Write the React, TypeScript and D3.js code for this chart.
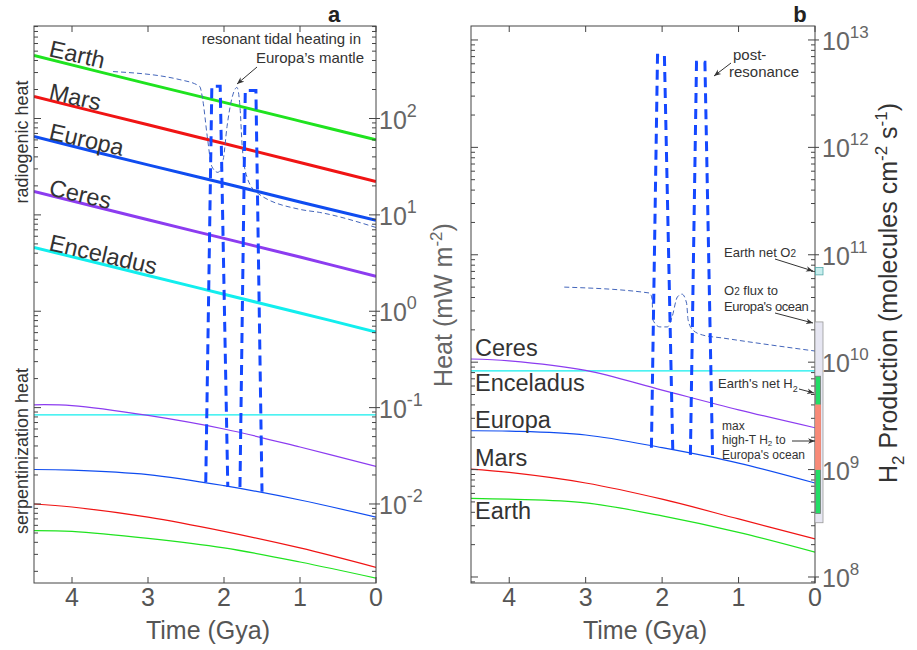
import React from "react";
import * as d3 from "d3";

// ---------- data ----------
const timeTicks = [4, 3, 2, 1, 0];

// radiogenic heat (mW m^-2), panel a
const radTimes = [4.5, 3, 2, 1, 0];
const radEarth = [450, 229, 147, 94, 60];
const radMars = [169, 86, 55, 35, 22.2];
const radEuropa = [65, 33, 21.3, 13.6, 8.8];
const radCeres = [17.5, 8.9, 5.7, 3.65, 2.3];
const radEnceladus = [4.6, 2.35, 1.5, 0.96, 0.61];

// serpentinization heat (mW m^-2), panel a
const serpTimes = [4.5, 4, 3, 2, 1, 0];
const serpCeres = [0.107, 0.105, 0.083, 0.06, 0.039, 0.0245];
const serpEnceladus = [0.084, 0.084, 0.084, 0.084, 0.084, 0.084];
const serpEuropa = [0.0228, 0.0225, 0.0202, 0.0155, 0.011, 0.0073];
const serpMars = [0.01, 0.0093, 0.0073, 0.0052, 0.0035, 0.0022];
const serpEarth = [0.0053, 0.0052, 0.0044, 0.0035, 0.0025, 0.0017];

// resonance pulses, panel a
const pulseA1Times = [2.24, 2.16, 2.05, 1.95];
const pulseA1Vals = [0.0168, 216, 216, 0.015];
const pulseA2Times = [1.79, 1.72, 1.58, 1.5];
const pulseA2Vals = [0.015, 195, 195, 0.0134];

// tidal heating in Europa's mantle (thin dashed), panel a
const tidalTimes = [3.46, 2.58, 2.32, 2.28, 2.22, 2.16, 2.08, 2.01, 1.96, 1.89, 1.83, 1.79, 1.76, 1.7, 1.57, 1.0, 0.74, 0];
const tidalVals = [307, 253, 215, 157, 65, 31.8, 27.6, 37.6, 82.6, 169, 210, 133, 51, 25, 17.1, 11.4, 10.6, 7.4];

// H2 production (molecules cm^-2 s^-1), panel b
const h2Times = [4.5, 4, 3, 2, 1, 0];
const h2Ceres = [1.07e10, 1.03e10, 8.4e9, 5.5e9, 3.6e9, 2.45e9];
const h2Enceladus = [8.3e9, 8.3e9, 8.3e9, 8.3e9, 8.3e9, 8.3e9];
const h2Europa = [2.3e9, 2.28e9, 2.1e9, 1.6e9, 1.15e9, 7.5e8];
const h2Mars = [1.01e9, 9.4e8, 7.5e8, 5.3e8, 3.47e8, 2.26e8];
const h2Earth = [5.4e8, 5.3e8, 4.9e8, 3.7e8, 2.6e8, 1.7e8];

// post-resonance pulses, panel b
const pulseB1Times = [2.14, 2.06, 1.97, 1.86];
const pulseB1Vals = [1.6e9, 7.2e12, 7.2e12, 1.45e9];
const pulseB2Times = [1.63, 1.55, 1.44, 1.34];
const pulseB2Vals = [1.37e9, 6.2e12, 6.2e12, 1.3e9];

// O2 flux (thin dashed), panel b
const o2Times = [3.28, 2.16, 2.13, 2.12, 2.03, 1.93, 1.87, 1.8, 1.74, 1.68, 1.66, 1.6, 1.47, 1.21, 0.85, 0];
const o2Vals = [5.0e10, 4.4e10, 3.8e10, 2.47e10, 2.13e10, 2.13e10, 2.63e10, 4.05e10, 4.3e10, 3.55e10, 2.47e10, 2.0e10, 1.79e10, 1.68e10, 1.54e10, 1.27e10];

// present-day range bars, panel b  [low, high]
const earthNetO2 = [6.5e10, 7.6e10];
const o2FluxEuropa = [3.2e8, 2.37e10];
const earthNetH2 = [3.9e8, 7.4e9];
const maxHighTH2 = [1.0e9, 4.0e9];

const leftDecades = [2, 1, 0, -1, -2];
const rightDecades = [13, 12, 11, 10, 9, 8];

// ---------- styling ----------
const FONT = "'Liberation Sans', Arial, Helvetica, sans-serif";
const C = {
  earth: "#1fe31f",
  mars: "#f01414",
  europa: "#0f4cf0",
  ceres: "#8c3cf0",
  enceladus: "#12eeee",
  pulse: "#1448ff",
  thinDash: "#4466bb",
  axis: "#444",
  tick: "#666",
  text: "#333",
};

const LX = d3.scaleLinear().domain([4.5, 0]).range([34, 376]);
const LY = d3.scaleLog().domain([10 ** -2.82, 10 ** 2.96]).range([583, 26]);
const RX = d3.scaleLinear().domain([4.5, 0]).range([471, 815]);
const RY = d3.scaleLog().domain([10 ** 7.944, 10 ** 13.13]).range([583, 26]);

function zip(ts: number[], vs: number[]): [number, number][] {
  return ts.map((t, i) => [t, vs[i]]);
}

function mkLine(x: any, y: any, curve: any = d3.curveMonotoneX) {
  return d3
    .line<[number, number]>()
    .x((d) => x(d[0]))
    .y((d) => y(d[1]))
    .curve(curve);
}

function logTicks(y: any) {
  const [lo, hi] = y.domain();
  const out: { v: number; major: boolean }[] = [];
  for (let d = Math.floor(Math.log10(lo)); d <= Math.ceil(Math.log10(hi)); d++) {
    for (let k = 1; k <= 9; k++) {
      const v = k * 10 ** d;
      if (v >= lo && v <= hi) out.push({ v, major: k === 1 });
    }
  }
  return out;
}

function Frame({ x, y, x0, x1 }: any) {
  const ticks = logTicks(y);
  const top = 26,
    bottom = 583;
  return (
    <g>
      <rect x={x0} y={top} width={x1 - x0} height={bottom - top} fill="none" stroke={C.axis} strokeWidth={1} />
      {ticks.map((t, i) => {
        const yy = y(t.v);
        const len = t.major ? 7 : 4;
        return (
          <g key={i} stroke={C.axis} strokeWidth={1}>
            <line x1={x0} x2={x0 + len} y1={yy} y2={yy} />
            <line x1={x1 - len} x2={x1 + (t.major ? 4 : 0)} y1={yy} y2={yy} />
          </g>
        );
      })}
      {timeTicks.map((t) => (
        <g key={t} stroke={C.axis} strokeWidth={1}>
          <line x1={x(t)} x2={x(t)} y1={bottom} y2={bottom - 6} />
          <line x1={x(t)} x2={x(t)} y1={top} y2={top + 6} />
        </g>
      ))}
      {timeTicks.map((t) => (
        <text key={"l" + t} x={x(t)} y={606} fontSize={25} fill="#555" textAnchor="middle" fontFamily={FONT}>
          {t}
        </text>
      ))}
    </g>
  );
}

export default function App() {
  const smooth = d3.curveCatmullRom.alpha(0.5);
  const lLine = mkLine(LX, LY, smooth);
  const lDash = mkLine(LX, LY);
  const lLin = mkLine(LX, LY, d3.curveLinear);
  const rLine = mkLine(RX, RY, smooth);
  const rDash = mkLine(RX, RY);
  const rLin = mkLine(RX, RY, d3.curveLinear);

  const radSeries = [
    { vals: radEarth, color: C.earth },
    { vals: radMars, color: C.mars },
    { vals: radEuropa, color: C.europa },
    { vals: radCeres, color: C.ceres },
    { vals: radEnceladus, color: C.enceladus },
  ];
  const serpSeries = [
    { vals: serpEarth, color: C.earth },
    { vals: serpMars, color: C.mars },
    { vals: serpEuropa, color: C.europa },
    { vals: serpEnceladus, color: C.enceladus },
    { vals: serpCeres, color: C.ceres },
  ];
  const h2Series = [
    { vals: h2Earth, color: C.earth },
    { vals: h2Mars, color: C.mars },
    { vals: h2Europa, color: C.europa },
    { vals: h2Enceladus, color: C.enceladus },
    { vals: h2Ceres, color: C.ceres },
  ];

  const leftLabels = [
    { name: "Earth", x: 48, y: 56 },
    { name: "Mars", x: 48, y: 99 },
    { name: "Europa", x: 48, y: 139 },
    { name: "Ceres", x: 48, y: 195 },
    { name: "Enceladus", x: 48, y: 250 },
  ];
  const rightLabels = [
    { name: "Ceres", y: 356 },
    { name: "Enceladus", y: 391 },
    { name: "Europa", y: 428 },
    { name: "Mars", y: 466 },
    { name: "Earth", y: 519 },
  ];

  const bar = (range: number[], xa: number, xb: number, fill: string, stroke: string) => (
    <rect
      x={xa}
      y={RY(range[1])}
      width={xb - xa}
      height={RY(range[0]) - RY(range[1])}
      fill={fill}
      stroke={stroke}
      strokeWidth={0.8}
    />
  );

  return (
    <svg
      width={917}
      height={650}
      viewBox="0 0 917 650"
      style={{ position: "absolute", left: 0, top: 0, background: "#fff" }}
      fontFamily={FONT}
    >
      <defs>
        <marker id="arr" viewBox="0 0 10 10" refX={10} refY={5} markerWidth={7} markerHeight={7} orient="auto">
          <path d="M0,1 L10,5 L0,9 L3,5 z" fill="#333" />
        </marker>
        <clipPath id="clipL">
          <rect x={34} y={26} width={342} height={557} />
        </clipPath>
        <clipPath id="clipR">
          <rect x={471} y={26} width={344} height={557} />
        </clipPath>
      </defs>

      {/* ---------- Panel a ---------- */}
      <g clipPath="url(#clipL)">
        {serpSeries.map((s, i) => (
          <path key={"s" + i} d={lLine(zip(serpTimes, s.vals)) || ""} fill="none" stroke={s.color} strokeWidth={1.2} />
        ))}
        {radSeries.map((s, i) => (
          <path key={"r" + i} d={lLine(zip(radTimes, s.vals)) || ""} fill="none" stroke={s.color} strokeWidth={3} />
        ))}
        <path d={lDash(zip(tidalTimes, tidalVals)) || ""} fill="none" stroke={C.thinDash} strokeWidth={1} strokeDasharray="5,3" />
        <path d={lLin(zip(pulseA1Times, pulseA1Vals)) || ""} fill="none" stroke={C.pulse} strokeWidth={3} strokeDasharray="10,6" />
        <path d={lLin(zip(pulseA2Times, pulseA2Vals)) || ""} fill="none" stroke={C.pulse} strokeWidth={3} strokeDasharray="10,6" />
      </g>
      <Frame x={LX} y={LY} x0={34} x1={376} />
      {leftDecades.map((d) => (
        <text key={d} x={379} y={LY(10 ** d) + 10} fontSize={25} fill={C.tick}>
          10
          <tspan dy={-12} fontSize={18}>
            {d}
          </tspan>
        </text>
      ))}
      {leftLabels.map((l) => (
        <text key={l.name} x={l.x} y={l.y} fontSize={23.5} fill={C.text} transform={`rotate(13 ${l.x} ${l.y})`}>
          {l.name}
        </text>
      ))}
      <text x={28} y={142} fontSize={18} fill={C.text} textAnchor="middle" transform="rotate(-90 28 142)">
        radiogenic heat
      </text>
      <text x={28} y={451} fontSize={18} fill={C.text} textAnchor="middle" transform="rotate(-90 28 451)">
        serpentinization heat
      </text>
      <text x={361} y={44} fontSize={15} fill={C.text} textAnchor="end">
        resonant tidal heating in
      </text>
      <text x={364} y={63} fontSize={15} fill={C.text} textAnchor="end">
        Europa’s mantle
      </text>
      <line x1={257} y1={67} x2={237} y2={84} stroke="#333" strokeWidth={1} markerEnd="url(#arr)" />
      <text x={334} y={22} fontSize={22} fontWeight="bold" fill="#222" textAnchor="middle">
        a
      </text>
      <text x={208} y={639} fontSize={25} fill="#555" textAnchor="middle">
        Time (Gya)
      </text>
      <text x={452} y={305} fontSize={25} fill="#666" textAnchor="middle" transform="rotate(-90 452 305)">
        Heat (mW m
        <tspan dy={-10} fontSize={17}>
          -2
        </tspan>
        <tspan dy={10}>)</tspan>
      </text>

      {/* ---------- Panel b ---------- */}
      <g clipPath="url(#clipR)">
        {h2Series.map((s, i) => (
          <path key={"h" + i} d={rLine(zip(h2Times, s.vals)) || ""} fill="none" stroke={s.color} strokeWidth={1.2} />
        ))}
        <path d={rDash(zip(o2Times, o2Vals)) || ""} fill="none" stroke={C.thinDash} strokeWidth={1} strokeDasharray="5,3" />
        <path d={rLin(zip(pulseB1Times, pulseB1Vals)) || ""} fill="none" stroke={C.pulse} strokeWidth={3} strokeDasharray="10,6" />
        <path d={rLin(zip(pulseB2Times, pulseB2Vals)) || ""} fill="none" stroke={C.pulse} strokeWidth={3} strokeDasharray="10,6" />
      </g>
      <Frame x={RX} y={RY} x0={471} x1={815} />
      {bar(o2FluxEuropa, 815, 823, "#e6e6f2", "#999")}
      {bar(earthNetH2, 815.5, 820.5, "#22dd66", "#777")}
      {bar(maxHighTH2, 815.5, 820.5, "#f88a78", "#f88a78")}
      {bar(earthNetO2, 815.5, 823, "#c8eeee", "#5aa")}
      {rightDecades.map((d) => (
        <text key={d} x={822} y={RY(10 ** d) + 10} fontSize={25} fill={C.tick}>
          10
          <tspan dy={-12} fontSize={17}>
            {d}
          </tspan>
        </text>
      ))}
      {rightLabels.map((l) => (
        <text key={l.name} x={475} y={l.y} fontSize={23.5} fill={C.text}>
          {l.name}
        </text>
      ))}
      <text x={733} y={60} fontSize={15} fill={C.text}>
        post-
      </text>
      <text x={729} y={77} fontSize={15} fill={C.text}>
        resonance
      </text>
      <line x1={731} y1={63} x2={714} y2={76} stroke="#333" strokeWidth={1} markerEnd="url(#arr)" />

      <text x={724} y={257} fontSize={13} fill={C.text}>
        Earth net O<tspan fontSize={10}>2</tspan>
      </text>
      <line x1={775} y1={259} x2={813} y2={271} stroke="#333" strokeWidth={1} markerEnd="url(#arr)" />
      <text x={724} y={295} fontSize={13} fill={C.text}>
        O<tspan fontSize={10}>2</tspan> flux to
      </text>
      <text x={724} y={311} fontSize={13} fill={C.text} letterSpacing={-0.4}>
        Europa's ocean
      </text>
      <line x1={775} y1={313} x2={813} y2={323} stroke="#333" strokeWidth={1} markerEnd="url(#arr)" />

      <text x={718} y={388} fontSize={13} fill={C.text}>
        Earth's net H
        <tspan fontSize={9} dy={4}>
          2
        </tspan>
      </text>
      <line x1={799} y1={389} x2={814} y2={393} stroke="#333" strokeWidth={1} markerEnd="url(#arr)" />
      <text x={722} y={430} fontSize={12} fill={C.text}>
        max
      </text>
      <text x={722} y={444} fontSize={12} fill={C.text}>
        high-T H
        <tspan fontSize={8} dy={2}>
          2
        </tspan>
        <tspan dy={-2}> to</tspan>
      </text>
      <text x={722} y={459} fontSize={12} fill={C.text}>
        Europa's ocean
      </text>
      <line x1={792} y1={441} x2={815} y2={441} stroke="#333" strokeWidth={1} markerEnd="url(#arr)" />

      <text x={800} y={22} fontSize={22} fontWeight="bold" fill="#222" textAnchor="middle">
        b
      </text>
      <text x={645} y={639} fontSize={25} fill="#555" textAnchor="middle">
        Time (Gya)
      </text>
      <text x={897} y={293} fontSize={25} fill="#333" textAnchor="middle" transform="rotate(-90 897 293)">
        H
        <tspan dy={7} fontSize={17}>
          2
        </tspan>
        <tspan dy={-7}> Production (molecules cm</tspan>
        <tspan dy={-10} fontSize={17}>
          -2
        </tspan>
        <tspan dy={10}> s</tspan>
        <tspan dy={-10} fontSize={17}>
          -1
        </tspan>
        <tspan dy={10}>)</tspan>
      </text>
    </svg>
  );
}
